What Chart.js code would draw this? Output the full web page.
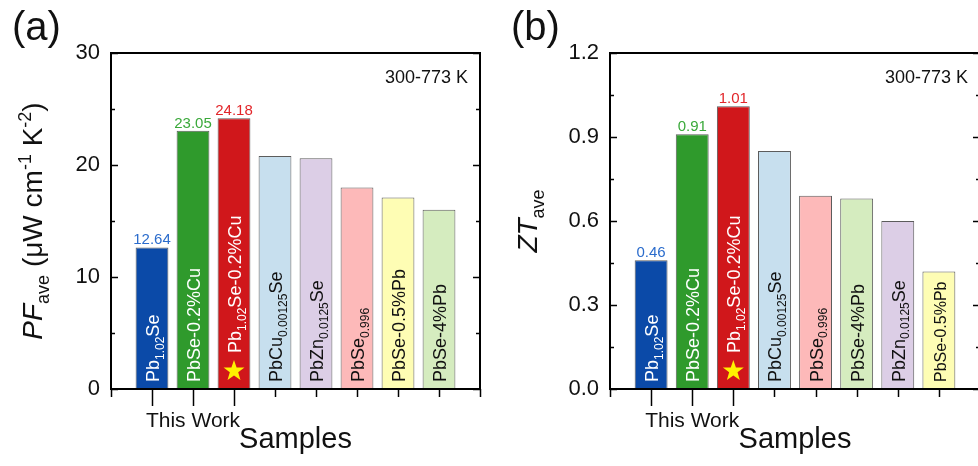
<!DOCTYPE html>
<html>
<head>
<meta charset="utf-8">
<script src="https://cdn.jsdelivr.net/npm/chart.js@4.4.1/dist/chart.umd.min.js"></script>
<style>
  html, body { margin: 0; padding: 0; background: #fff; overflow: hidden; width: 978px; height: 466px; }
  canvas { position: absolute; top: 0; }
  #chartA { left: 0; }
  #chartB { left: 489px; }
</style>
</head>
<body>
<canvas id="chartA" width="489" height="466"></canvas>
<canvas id="chartB" width="495" height="466"></canvas>
<script>
// (a) average power factor, 300-773 K
const samplesA = ['Pb_{1.02}Se', 'PbSe-0.2%Cu', 'Pb_{1.02}Se-0.2%Cu', 'PbCu_{0.00125}Se', 'PbZn_{0.0125}Se', 'PbSe_{0.996}', 'PbSe-0.5%Pb', 'PbSe-4%Pb'];
const pfAve = [12.64, 23.05, 24.18, 20.8, 20.6, 18.0, 17.1, 16.0];
const pfTicks = [0, 10, 20, 30];

// (b) average ZT, 300-773 K
const samplesB = ['Pb_{1.02}Se', 'PbSe-0.2%Cu', 'Pb_{1.02}Se-0.2%Cu', 'PbCu_{0.00125}Se', 'PbSe_{0.996}', 'PbSe-4%Pb', 'PbZn_{0.0125}Se', 'PbSe-0.5%Pb'];
const ztAve = [0.46, 0.91, 1.01, 0.85, 0.69, 0.68, 0.60, 0.42];
const ztTicks = [0, 0.3, 0.6, 0.9, 1.2];

const thisWork = ['Pb_{1.02}Se', 'PbSe-0.2%Cu', 'Pb_{1.02}Se-0.2%Cu'];
const starSample = 'Pb_{1.02}Se-0.2%Cu';
const tempRange = '300-773 K';

// colours per sample (same in both panels)
const sampleColors = {
  'Pb_{1.02}Se': '#0b4aa8',
  'PbSe-0.2%Cu': '#2f9a2c',
  'Pb_{1.02}Se-0.2%Cu': '#d0171b',
  'PbCu_{0.00125}Se': '#c7dfee',
  'PbZn_{0.0125}Se': '#dccee6',
  'PbSe_{0.996}': '#fdb9b9',
  'PbSe-0.5%Pb': '#fefdb4',
  'PbSe-4%Pb': '#d5ecbf'
};
const valueColors = {
  'Pb_{1.02}Se': '#2b6ccc',
  'PbSe-0.2%Cu': '#3aa93a',
  'Pb_{1.02}Se-0.2%Cu': '#e2262a'
};
const FAMILY = '"Liberation Sans", Arial, sans-serif';

// tiny rich text: _{sub} ^{sup} ~{italic}
function parseRich(str) {
  const parts = [];
  const re = /([_^~])\{([^}]*)\}/g;
  let last = 0, m;
  while ((m = re.exec(str))) {
    if (m.index > last) parts.push({ t: str.slice(last, m.index), k: '' });
    parts.push({ t: m[2], k: m[1] });
    last = re.lastIndex;
  }
  if (last < str.length) parts.push({ t: str.slice(last), k: '' });
  return parts;
}

function fontFor(k, size) {
  const s = (k === '_' || k === '^') ? Math.round(size * 0.66) : size;
  return (k === '~' ? 'italic ' : '') + s + 'px ' + FAMILY;
}

function drawRich(ctx, str, x, y, size, align) {
  const parts = parseRich(str);
  let w = 0;
  parts.forEach(p => {
    ctx.font = fontFor(p.k, size);
    p.w = ctx.measureText(p.t).width;
    w += p.w;
  });
  let cx = align === 'center' ? x - w / 2 : align === 'right' ? x - w : x;
  ctx.textAlign = 'left';
  ctx.textBaseline = 'alphabetic';
  parts.forEach(p => {
    ctx.font = fontFor(p.k, size);
    const dy = p.k === '_' ? size * 0.25 : p.k === '^' ? -size * 0.4 : 0;
    ctx.fillText(p.t, cx, y + dy);
    cx += p.w;
  });
}

function drawStar(ctx, x, y, r) {
  ctx.beginPath();
  for (let i = 0; i < 10; i++) {
    const rr = i % 2 === 0 ? r : r * 0.4;
    const a = -Math.PI / 2 + i * Math.PI / 5;
    ctx.lineTo(x + rr * Math.cos(a), y + rr * Math.sin(a));
  }
  ctx.closePath();
  ctx.fillStyle = '#fff200';
  ctx.fill();
}

const decor = {
  id: 'decor',
  afterDatasetsDraw(chart, args, cfg) {
    const ctx = chart.ctx;
    const xs = chart.scales.x, ys = chart.scales.y;
    const a = chart.chartArea;
    const y0 = ys.getPixelForValue(0);
    const samples = cfg.samples;
    ctx.save();

    // bar labels, star, values
    samples.forEach((s, i) => {
      const xc = xs.getPixelForValue(i + 1);
      const dark = s in valueColors;
      ctx.fillStyle = dark ? '#ffffff' : '#111111';
      const size = cfg.smallLabels.includes(s) ? 16 : 18;
      ctx.save();
      ctx.translate(xc + 7, s === starSample ? y0 - 36 : y0 - 7);
      ctx.rotate(-Math.PI / 2);
      drawRich(ctx, s, 0, 0, size, 'left');
      ctx.restore();
      if (s === starSample) drawStar(ctx, xc, y0 - 18, 11);
      if (dark) {
        ctx.fillStyle = valueColors[s];
        const yt = ys.getPixelForValue(cfg.values[i]);
        ctx.font = '15px ' + FAMILY;
        ctx.textAlign = 'center';
        ctx.textBaseline = 'alphabetic';
        ctx.fillText(cfg.values[i].toFixed(2), xc, yt - 3);
      }
    });

    // frame
    ctx.strokeStyle = '#000';
    ctx.lineWidth = 2;
    ctx.strokeRect(a.left, a.top, a.right - a.left, a.bottom - a.top);

    // y ticks inward, both sides
    ctx.lineWidth = 1.5;
    const step = cfg.ticks[1] - cfg.ticks[0];
    const nMinor = Math.round((ys.max - ys.min) / (step / 2));
    for (let k = 0; k <= nMinor; k++) {
      const v = ys.min + k * step / 2;
      const py = Math.round(ys.getPixelForValue(v)) + 0.5;
      const len = k % 2 === 0 ? 7 : 4;
      ctx.beginPath();
      ctx.moveTo(a.left, py); ctx.lineTo(a.left + len, py);
      ctx.moveTo(a.right, py); ctx.lineTo(a.right - len, py);
      ctx.stroke();
    }
    // x ticks outward
    for (let v = xs.min; v <= xs.max; v++) {
      const px = Math.round(xs.getPixelForValue(v)) + 0.5;
      const isWork = v >= 1 && thisWork.includes(samples[v - 1]);
      ctx.beginPath();
      ctx.moveTo(px, a.bottom);
      ctx.lineTo(px, a.bottom + (isWork ? 17 : 8));
      ctx.stroke();
    }

    // texts
    ctx.fillStyle = '#111';
    const workIdx = samples.map((s, i) => thisWork.includes(s) ? i + 1 : null).filter(v => v !== null);
    const workMid = (workIdx[0] + workIdx[workIdx.length - 1]) / 2;
    ctx.font = '21px ' + FAMILY;
    ctx.textAlign = 'center';
    ctx.fillText('This Work', xs.getPixelForValue(workMid), 427);
    ctx.font = '29px ' + FAMILY;
    ctx.fillText('Samples', (a.left + a.right) / 2, 448);
    ctx.font = '18px ' + FAMILY;
    ctx.textAlign = 'right';
    ctx.fillText(tempRange, a.right - 12, 83);
    ctx.font = '40px ' + FAMILY;
    ctx.textAlign = 'left';
    ctx.fillText(cfg.letter, cfg.letterX, 40);

    ctx.save();
    ctx.translate(cfg.titleX, (a.top + a.bottom) / 2);
    ctx.rotate(-Math.PI / 2);
    drawRich(ctx, cfg.title, 0, 0, 28, 'center');
    ctx.restore();

    ctx.restore();
  }
};

function makeChart(id, samples, values, ticks, fmt, cfg) {
  cfg.samples = samples;
  cfg.values = values;
  cfg.ticks = ticks;
  return new Chart(document.getElementById(id), {
    type: 'bar',
    data: {
      datasets: [{
        data: values.map((v, i) => ({ x: i + 1, y: v })),
        backgroundColor: samples.map(s => sampleColors[s]),
        borderColor: '#5c5c5c',
        borderWidth: 1,
        barPercentage: 0.8,
        categoryPercentage: 1
      }]
    },
    options: {
      responsive: false,
      animation: false,
      devicePixelRatio: 1,
      layout: { padding: { top: 53, right: cfg.right, bottom: 0, left: 0 } },
      plugins: { legend: { display: false }, tooltip: { enabled: false }, decor: cfg },
      scales: {
        x: {
          type: 'linear', min: 0, max: samples.length + 1, offset: false,
          ticks: { display: false },
          grid: { display: false, drawTicks: false },
          border: { display: false },
          afterFit: s => { s.height = 77; }
        },
        y: {
          min: ticks[0], max: ticks[ticks.length - 1],
          afterBuildTicks: s => { s.ticks = ticks.map(v => ({ value: v })); },
          ticks: { padding: 11, color: '#111', font: { family: FAMILY, size: 22 }, callback: fmt },
          grid: { display: false, drawTicks: false },
          border: { display: false },
          afterFit: s => { s.width = cfg.left; }
        }
      }
    },
    plugins: [decor]
  });
}

makeChart('chartA', samplesA, pfAve, pfTicks, v => String(v), {
  left: 111, right: 9, letter: '(a)', letterX: 12, titleX: 42,
  title: '~{PF}_{ave} (μW cm^{-1} K^{-2})', smallLabels: []
});
makeChart('chartB', samplesB, ztAve, ztTicks, v => Number(v).toFixed(1), {
  left: 121, right: 4, letter: '(b)', letterX: 22, titleX: 48,
  title: '~{ZT}_{ave}', smallLabels: ['PbSe-0.5%Pb']
});
</script>
</body>
</html>
